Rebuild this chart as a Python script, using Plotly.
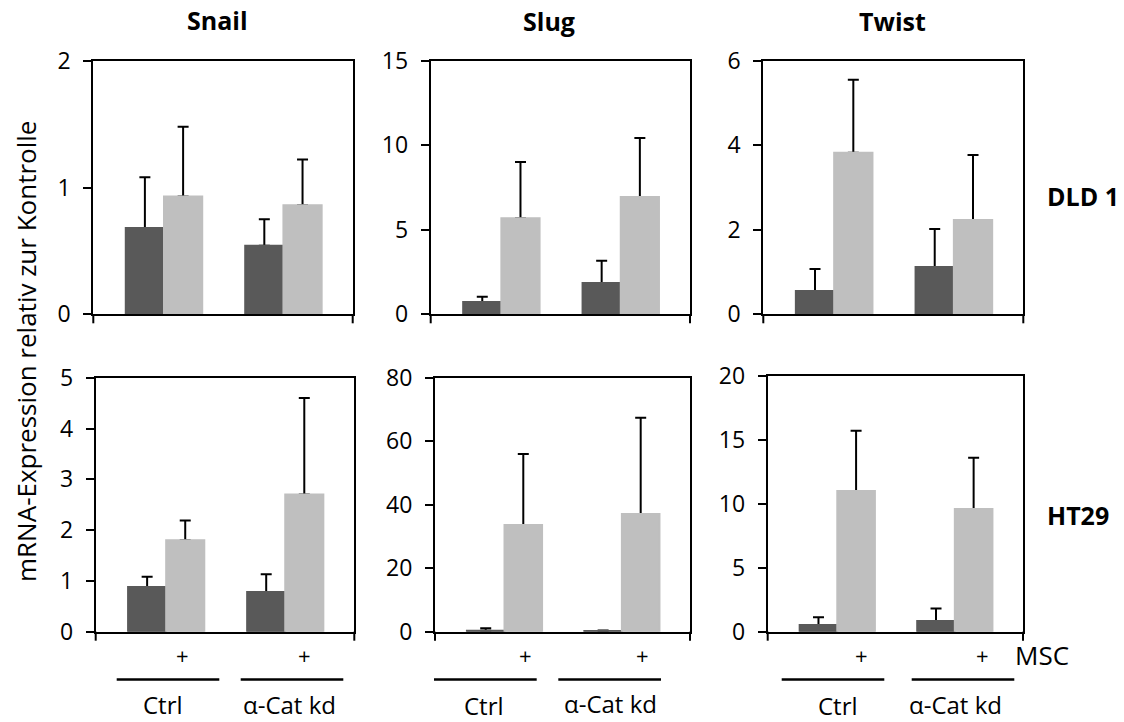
import plotly.graph_objects as go

# ---- data -----------------------------------------------------------------
genes = ["Snail", "Slug", "Twist"]
cell_lines = ["DLD 1", "HT29"]
groups = ["Ctrl", "α-Cat kd"]

# means and upper error (SD) per gene, order: Ctrl, α-Cat kd
dld1_minus_mean = [[0.68, 0.54], [0.73, 1.85], [0.55, 1.12]]
dld1_minus_err = [[0.40, 0.21], [0.31, 1.32], [0.52, 0.90]]
dld1_plus_mean = [[0.93, 0.86], [5.68, 6.94], [3.82, 2.23]]
dld1_plus_err = [[0.55, 0.36], [3.33, 3.49], [1.73, 1.54]]

ht29_minus_mean = [[0.88, 0.78], [0.30, 0.25], [0.52, 0.83]]
ht29_minus_err = [[0.20, 0.35], [0.75, 0.10], [0.60, 0.99]]
ht29_plus_mean = [[1.80, 2.70], [33.6, 37.1], [10.99, 9.58]]
ht29_plus_err = [[0.39, 1.90], [22.4, 30.3], [4.71, 4.01]]

y_max = [[2, 15, 6], [5, 80, 20]]
y_step = [[1, 5, 2], [1, 20, 5]]

# ---- styling --------------------------------------------------------------
W, H = 1124, 722
FONT = "Open Sans"
DARK = "#595959"
LIGHT = "#BFBFBF"


def px(x):
    return x / W


def py(y):
    return 1 - y / H


# panel boxes in pixels: (left, right, top, bottom)
boxes = [
    [(93.3, 352.7, 60.7, 314.3), (430.7, 690.0, 60.7, 314.3), (763.3, 1023.3, 60.7, 314.3)],
    [(95.7, 354.3, 377.7, 631.7), (435.0, 690.0, 377.7, 631.7), (767.7, 1023.0, 375.7, 631.7)],
]

BAR_W = 0.32
X_RANGE = [-0.592, 1.58]

fig = go.Figure()
layout = dict(
    width=W, height=H, autosize=False,
    margin=dict(l=0, r=0, t=0, b=0, pad=0, autoexpand=False),
    paper_bgcolor="white", plot_bgcolor="white",
    barmode="overlay", showlegend=False,
    font=dict(family=FONT, color="black", size=23),
)
shapes = []
annotations = []

means = [(dld1_minus_mean, dld1_plus_mean), (ht29_minus_mean, ht29_plus_mean)]
errs = [(dld1_minus_err, dld1_plus_err), (ht29_minus_err, ht29_plus_err)]

k = 0
for r in range(2):
    for c in range(3):
        k += 1
        s = "" if k == 1 else str(k)
        left, right, top, bottom = boxes[r][c]
        for j, (color, offset) in enumerate([(DARK, -BAR_W), (LIGHT, 0.0)]):
            m = means[r][j][c]
            e = errs[r][j][c]
            # error bars (upper only) on a transparent layer underneath
            fig.add_trace(go.Bar(
                x=groups, y=m, xaxis="x" + s, yaxis="y" + s,
                width=BAR_W, offset=offset,
                marker=dict(color="rgba(0,0,0,0)", line=dict(width=0)),
                error_y=dict(type="data", array=e, arrayminus=[0] * len(e),
                             symmetric=False, color="black", thickness=2, width=5.5),
                hoverinfo="skip",
            ))
            # the visible bars
            fig.add_trace(go.Bar(
                x=groups, y=m, xaxis="x" + s, yaxis="y" + s,
                width=BAR_W, offset=offset,
                marker=dict(color=color, line=dict(color=color, width=2)),
            ))
        layout["xaxis" + s] = dict(
            domain=[px(left), px(right)], anchor="y" + s, automargin=False,
            type="category", categoryorder="array", categoryarray=groups,
            range=X_RANGE, showticklabels=False, ticks="",
            showline=True, linewidth=2, linecolor="black", mirror=True,
            showgrid=False, zeroline=False, fixedrange=True,
        )
        layout["yaxis" + s] = dict(
            domain=[py(bottom), py(top)], anchor="x" + s, automargin=False,
            range=[0, y_max[r][c]], dtick=y_step[r][c], tick0=0,
            ticks="outside", ticklen=8, tickwidth=2, tickcolor="black",
            showline=True, linewidth=2, linecolor="black", mirror=True,
            showgrid=False, zeroline=False, fixedrange=True,
            tickfont=dict(family=FONT, size=23, color="black"),
            ticklabelstandoff=8,
        )
        # end tick marks below the category axis
        for xd in (0, 1):
            shapes.append(dict(
                type="line", xref="x" + s + " domain", yref="y" + s + " domain",
                x0=xd, x1=xd, y0=0, y1=-9 / (bottom - top),
                line=dict(color="black", width=2),
            ))

# gene titles
for name, x, y in zip(genes, [217.3, 549.0, 892.6], [20, 21, 21]):
    annotations.append(dict(text="<b>%s</b>" % name, x=px(x), y=py(y),
                            xref="paper", yref="paper", showarrow=False,
                            xanchor="center", yanchor="middle",
                            font=dict(family=FONT, size=25, color="black")))

# cell line labels
for name, x, y in zip(cell_lines, [1083, 1078], [196, 515]):
    annotations.append(dict(text="<b>%s</b>" % name, x=px(x), y=py(y),
                            xref="paper", yref="paper", showarrow=False,
                            xanchor="center", yanchor="middle",
                            font=dict(family=FONT, size=25, color="black")))

# shared y-axis title
annotations.append(dict(text="mRNA-Expression relativ zur Kontrolle",
                        x=px(26), y=py(352), xref="paper", yref="paper",
                        textangle=-90, showarrow=False,
                        xanchor="center", yanchor="middle",
                        font=dict(family=FONT, size=26, color="black")))

# treatment row under the lower panels
plus_x = [182.3, 304.0, 525.3, 642.7, 861.0, 982.3]
for x in plus_x:
    annotations.append(dict(text="+", x=px(x), y=py(655), xref="paper", yref="paper",
                            showarrow=False, xanchor="center", yanchor="middle",
                            font=dict(family=FONT, size=22, color="black")))
annotations.append(dict(text="MSC", x=px(1013.3), y=py(655), xref="paper", yref="paper",
                        showarrow=False, xanchor="left", yanchor="middle",
                        font=dict(family=FONT, size=26, color="black")))

group_lines = [(116.7, 219.3), (240.7, 343.3), (434.0, 536.7),
               (558.3, 661.0), (781.7, 884.3), (911.7, 1014.3)]
for x0, x1 in group_lines:
    shapes.append(dict(type="line", xref="paper", yref="paper",
                       x0=px(x0), x1=px(x1), y0=py(679.5), y1=py(679.5),
                       line=dict(color="black", width=2.5)))

group_labels = [("Ctrl", 163.3, 704.5), ("α-Cat kd", 289.3, 704.0),
                ("Ctrl", 484.0, 705.5), ("α-Cat kd", 610.0, 703.0),
                ("Ctrl", 838.3, 705.0), ("α-Cat kd", 955.0, 704.0)]
for text, x, y in group_labels:
    annotations.append(dict(text=text, x=px(x), y=py(y), xref="paper", yref="paper",
                            showarrow=False, xanchor="center", yanchor="middle",
                            font=dict(family=FONT, size=24, color="black")))

layout["shapes"] = shapes
layout["annotations"] = annotations
fig.update_layout(**layout)

fig.write_html("out.html")
